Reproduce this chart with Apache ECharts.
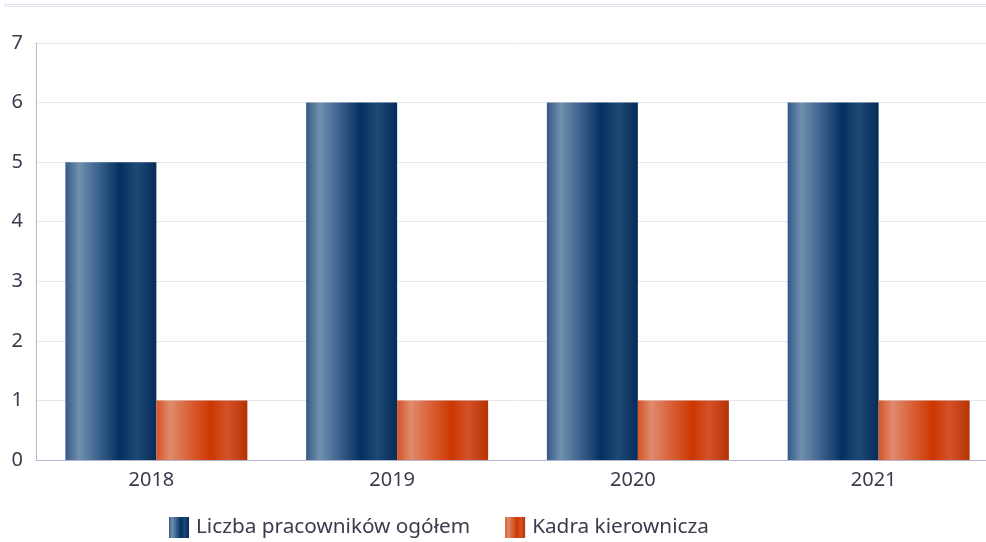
<!DOCTYPE html>
<html>
<head>
<meta charset="utf-8">
<style>
  html, body { margin: 0; padding: 0; background: #ffffff; overflow: hidden; }
  #chart { width: 1000px; height: 542px; }
</style>
<script src="https://cdn.jsdelivr.net/npm/echarts@6/dist/echarts.min.js"></script>
</head>
<body>
<div id="chart"></div>
<script>
const years = ['2018', '2019', '2020', '2021'];
const seriesNames = ['Liczba pracowników ogółem', 'Kadra kierownicza'];
const totalStaff = [5, 6, 6, 6];
const management = [1, 1, 1, 1];

// Horizontal "cylinder" shading for each bar
function shade(edge, light, mid, core, rim, dark) {
  return new echarts.graphic.LinearGradient(0, 0, 1, 0, [
    { offset: 0, color: edge },
    { offset: 0.15, color: light },
    { offset: 0.35, color: mid },
    { offset: 0.6, color: core },
    { offset: 0.78, color: rim },
    { offset: 1, color: dark }
  ]);
}
const blueFill = shade('#355a86', '#7190ae', '#3f6590', '#03305f', '#1e4976', '#062c58');
const orangeFill = shade('#d35426', '#e08b6e', '#d9633a', '#cc3700', '#d3522a', '#b53300');

const chart = echarts.init(document.getElementById('chart'));
const font = 'Noto Sans';
const textColor = '#3b3b4e';
chart.setOption({
  animation: false,
  textStyle: { fontFamily: font },
  graphic: [
    { type: 'rect', shape: { x: 4, y: 4, width: 996, height: 1 }, style: { fill: '#dcdcea' } },
    { type: 'rect', shape: { x: 4, y: 6, width: 996, height: 1 }, style: { fill: '#e6e6f0' } }
  ],
  grid: { left: 36, right: 1, top: 43, bottom: 82 },
  legend: {
    top: 517,
    left: 169,
    padding: 0,
    icon: 'rect',
    itemWidth: 20,
    itemHeight: 21,
    itemGap: 35,
    textStyle: { fontSize: 20.75, color: textColor, fontFamily: font, padding: [0, 0, 0, 2] },
    data: seriesNames
  },
  xAxis: {
    type: 'category',
    data: years,
    axisLine: { lineStyle: { color: '#b6b6cc', width: 1 } },
    axisTick: { show: false },
    axisLabel: { fontSize: 20, color: textColor, margin: 10, padding: [0, 10, 0, 0] }
  },
  yAxis: {
    type: 'value',
    min: 0,
    max: 7,
    interval: 1,
    axisLine: { show: true, lineStyle: { color: '#b6b6cc', width: 1 } },
    axisTick: { show: false },
    splitLine: { lineStyle: { color: '#e6e6f0' } },
    axisLabel: { fontSize: 20, color: textColor, margin: 13 }
  },
  series: [
    {
      name: seriesNames[0],
      type: 'bar',
      data: totalStaff,
      barWidth: 91,
      barGap: '0%',
      itemStyle: { color: blueFill }
    },
    {
      name: seriesNames[1],
      type: 'bar',
      data: management,
      barWidth: 91,
      barGap: '0%',
      itemStyle: { color: orangeFill }
    }
  ]
});
</script>
</body>
</html>
